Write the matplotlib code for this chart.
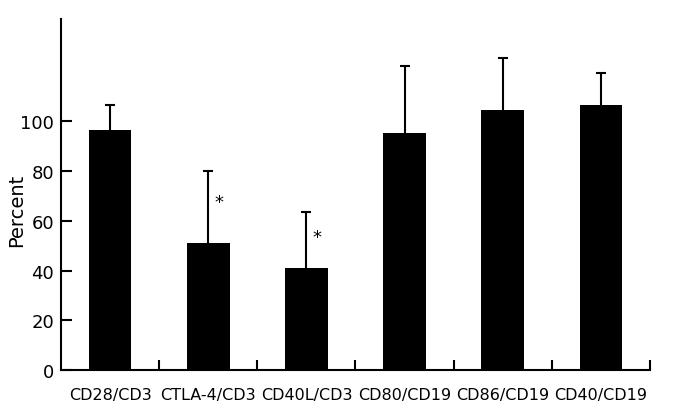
import matplotlib
matplotlib.use("Agg")
import matplotlib.pyplot as plt
import numpy as np

categories = ['CD28/CD3', 'CTLA-4/CD3', 'CD40L/CD3', 'CD80/CD19', 'CD86/CD19', 'CD40/CD19']
values = [96.7, 51.1, 40.9, 95.5, 104.5, 106.5]
errors = [9.9, 28.9, 22.8, 26.7, 20.9, 13.1]
significant = [False, True, True, False, False, False]
y_ticks = [0, 20, 40, 60, 80, 100]

plt.rcParams['font.family'] = ['DejaVu Sans']

fig = plt.figure(figsize=(6.81, 4.14), dpi=100)
ax = fig.add_axes([61 / 681, 1 - 371 / 414, 589 / 681, 351 / 414])

x = np.arange(len(categories))
ax.bar(x, values, width=0.435, color='black', zorder=2)
eb = ax.errorbar(x, values, yerr=[np.zeros(len(errors)), errors], fmt='none',
                 ecolor='black', elinewidth=1.5, capsize=3.8, capthick=1.5, zorder=1)
# only upper caps
eb.lines[1][0].set_visible(False)

for i, (v, e, s) in enumerate(zip(values, errors, significant)):
    if s:
        ax.text(i + 0.11, v + e * 0.6 - 1.0, '*', fontsize=13, ha='center', va='center')

ax.set_xlim(-0.5, len(categories) - 0.5)
ax.set_ylim(0, 141.2)

ax.spines['top'].set_visible(False)
ax.spines['right'].set_visible(False)
ax.spines['left'].set_linewidth(1.5)
ax.spines['bottom'].set_linewidth(1.5)

ax.set_yticks(y_ticks)
ax.tick_params(axis='y', direction='in', length=8, width=1.5, labelsize=13, pad=5)

ax.set_xticks(x)
ax.set_xticklabels(categories)
ax.set_xticks(np.arange(0.5, len(categories)), minor=True)
ax.tick_params(axis='x', which='major', length=0, labelsize=11.5, pad=12)
ax.tick_params(axis='x', which='minor', direction='in', length=7.5, width=1.5)

fig.text(17 / 681, 1 - 210 / 414, 'Percent', rotation=90, ha='center', va='center', fontsize=14)

fig.savefig('out.png', dpi=100)
